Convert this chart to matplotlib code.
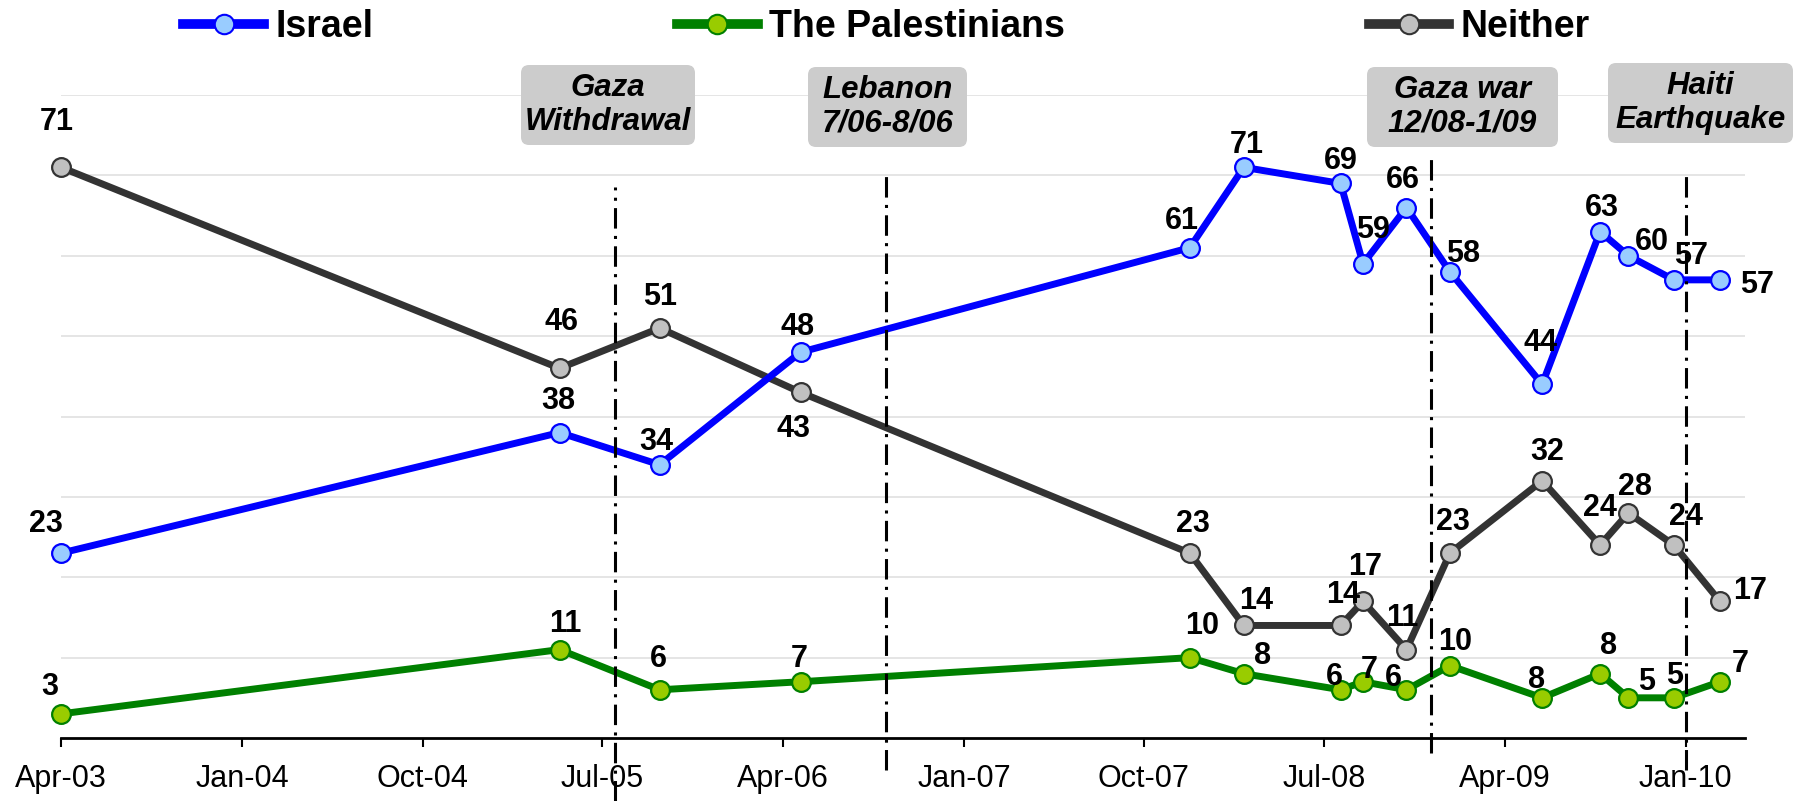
import matplotlib
matplotlib.use('Agg')
import matplotlib.pyplot as plt
import matplotlib.dates as mdates
from matplotlib.lines import Line2D
from matplotlib.patches import FancyBboxPatch
import pandas as pd

plt.rcParams['font.family'] = ['Liberation Sans', 'DejaVu Sans']

# ---------------- data ----------------
survey_dates = pd.to_datetime([
    '2003-04-01', '2005-04-27', '2005-09-26', '2006-04-28', '2007-12-10',
    '2008-03-01', '2008-07-26', '2008-08-29', '2008-11-03', '2009-01-08',
    '2009-05-28', '2009-08-24', '2009-10-06', '2009-12-14', '2010-02-22'])
israel = [23, 38, 34, 48, 61, 71, 69, 59, 66, 58, 44, 63, 60, 57, 57]
palestinians = [3, 11, 6, 7, 10, 8, 6, 7, 6, 9, 5, 8, 5, 5, 7]
palestinians_labels = ['3', '11', '6', '7', '10', '8', '6', '7', '6', '10',
                       '8', '8', '5', '5', '7']
neither = [71, 46, 51, 43, 23, 14, 14, 17, 11, 23, 32, 24, 28, 24, 17]
series_names = ['Israel', 'The Palestinians', 'Neither']

tick_dates = pd.date_range('2003-04-01', '2010-01-01', freq='9MS')
x_start, x_end = pd.Timestamp('2003-04-01'), pd.Timestamp('2010-04-01')

event_names = ['Gaza\nWithdrawal', 'Lebanon\n7/06-8/06',
               'Gaza war\n12/08-1/09', 'Haiti\nEarthquake']
event_dates = pd.to_datetime(['2005-07-20', '2006-09-05', '2008-12-10', '2010-01-02'])

# ---------------- styling ----------------
W, H = 1794, 801
fig = plt.figure(figsize=(W / 100, H / 100), dpi=100)
ax = fig.add_axes([61 / W, 63 / H, 1684 / W, 643 / H])

styles = [
    dict(color='#0000FF', mfc='#99CCFF', mec='#0000FF'),
    dict(color='#008000', mfc='#99CC00', mec='#008000'),
    dict(color='#333333', mfc='#C0C0C0', mec='#333333'),
]

# label offsets in pixels (dx right, dy down) relative to the marker
israel_off = [(-15, -32), (-1, -34), (-3, -26), (-3, -28), (-8, -30), (3, -25),
              (0, -25), (10, -37), (-4, -30), (13, -21), (-2, -44), (2, -26),
              (23, -17), (17, -27), (37, 2)]
pal_off = [(-11, -30), (6, -28), (-1, -34), (-1, -26), (12, -34), (19, -20),
           (-6, -16), (6, -15), (-13, -15), (5, -26), (-6, -21), (8, -31),
           (18, -19), (1, -25), (20, -21)]
neither_off = [(-4, -48), (2, -49), (0, -34), (-7, 34), (3, -32), (12, -27),
               (2, -33), (2, -37), (-4, -34), (3, -34), (5, -32), (0, -40),
               (7, -29), (12, -31), (30, -13)]

all_values = [israel, palestinians, neither]
all_labels = [[str(v) for v in israel], palestinians_labels, [str(v) for v in neither]]
all_offsets = [israel_off, pal_off, neither_off]
zorders = [5, 4, 3]

for vals, st, z in zip(all_values, styles, zorders):
    ax.plot(survey_dates, vals, lw=5, marker='o', ms=13.5, mew=1.6,
            zorder=z, clip_on=False, **st)

half_digit = 10.8
for vals, labs, offs in zip(all_values, all_labels, all_offsets):
    for d, v, lab, (dx, dy) in zip(survey_dates, vals, labs, offs):
        ax.annotate(lab, (d, v), xytext=(dx, -dy - half_digit),
                    textcoords='offset pixels', ha='center', va='baseline',
                    fontsize=22, fontweight='bold', color='black', zorder=9,
                    annotation_clip=False)

# event lines
event_extent = [(-0.098, 0.857), (-0.050, 0.880), (-0.023, 0.904), (-0.050, 0.880)]
for d, (y0, y1) in zip(event_dates, event_extent):
    ax.axvline(d, ymin=y0, ymax=y1, color='black', lw=2.2,
               linestyle=(0, (6.7, 2.4, 1.0, 2.4)), clip_on=False, zorder=7)

# event label boxes (pixel boxes: left, top, right, bottom)
event_boxes = [(521, 65, 695, 145), (808, 67, 967, 147),
               (1367, 67, 1558, 147), (1608, 63, 1793, 143)]
for name, (l, t, r, b) in zip(event_names, event_boxes):
    patch = FancyBboxPatch((l / 100, (H - b) / 100), (r - l) / 100, (b - t) / 100,
                           boxstyle='round,pad=0,rounding_size=0.08',
                           transform=fig.dpi_scale_trans, facecolor='#CCCCCC',
                           edgecolor='none', zorder=1)
    fig.patches.append(patch)
    fig.text((l + r) / 2 / W, 1 - (t + b) / 2 / H, name, ha='center', va='center',
             fontsize=22.5, fontweight='bold', fontstyle='italic',
             linespacing=1.15, zorder=2)

# axes formatting
ax.set_xlim(x_start, x_end)
ax.set_ylim(0, 80)
ax.set_xticks(tick_dates)
ax.xaxis.set_major_formatter(mdates.DateFormatter('%b-%y'))
ax.tick_params(axis='x', direction='out', length=6.5, width=1.5, pad=12,
               labelsize=22, colors='black')
ax.set_yticks(range(10, 81, 10))
ax.tick_params(axis='y', length=0, labelleft=False)
ax.yaxis.grid(True, color='#E3E3E3', lw=1.3)
ax.set_axisbelow(True)
for s in ['left', 'top', 'right']:
    ax.spines[s].set_visible(False)
ax.spines['bottom'].set_linewidth(2.0)
ax.spines['bottom'].set_zorder(6)

# legend
handles = [Line2D([], [], lw=7, marker='o', ms=14, mew=1.5, **st) for st in styles]
fig.legend(handles, series_names, loc='center', bbox_to_anchor=(886.5 / W, 1 - 27 / H),
           ncol=3, frameon=False, handlelength=2.15, handletextpad=0.3,
           columnspacing=8.1, borderpad=0, borderaxespad=0,
           prop=dict(family='Liberation Sans', weight='bold', size=27))

fig.savefig('out.png', dpi=100)
